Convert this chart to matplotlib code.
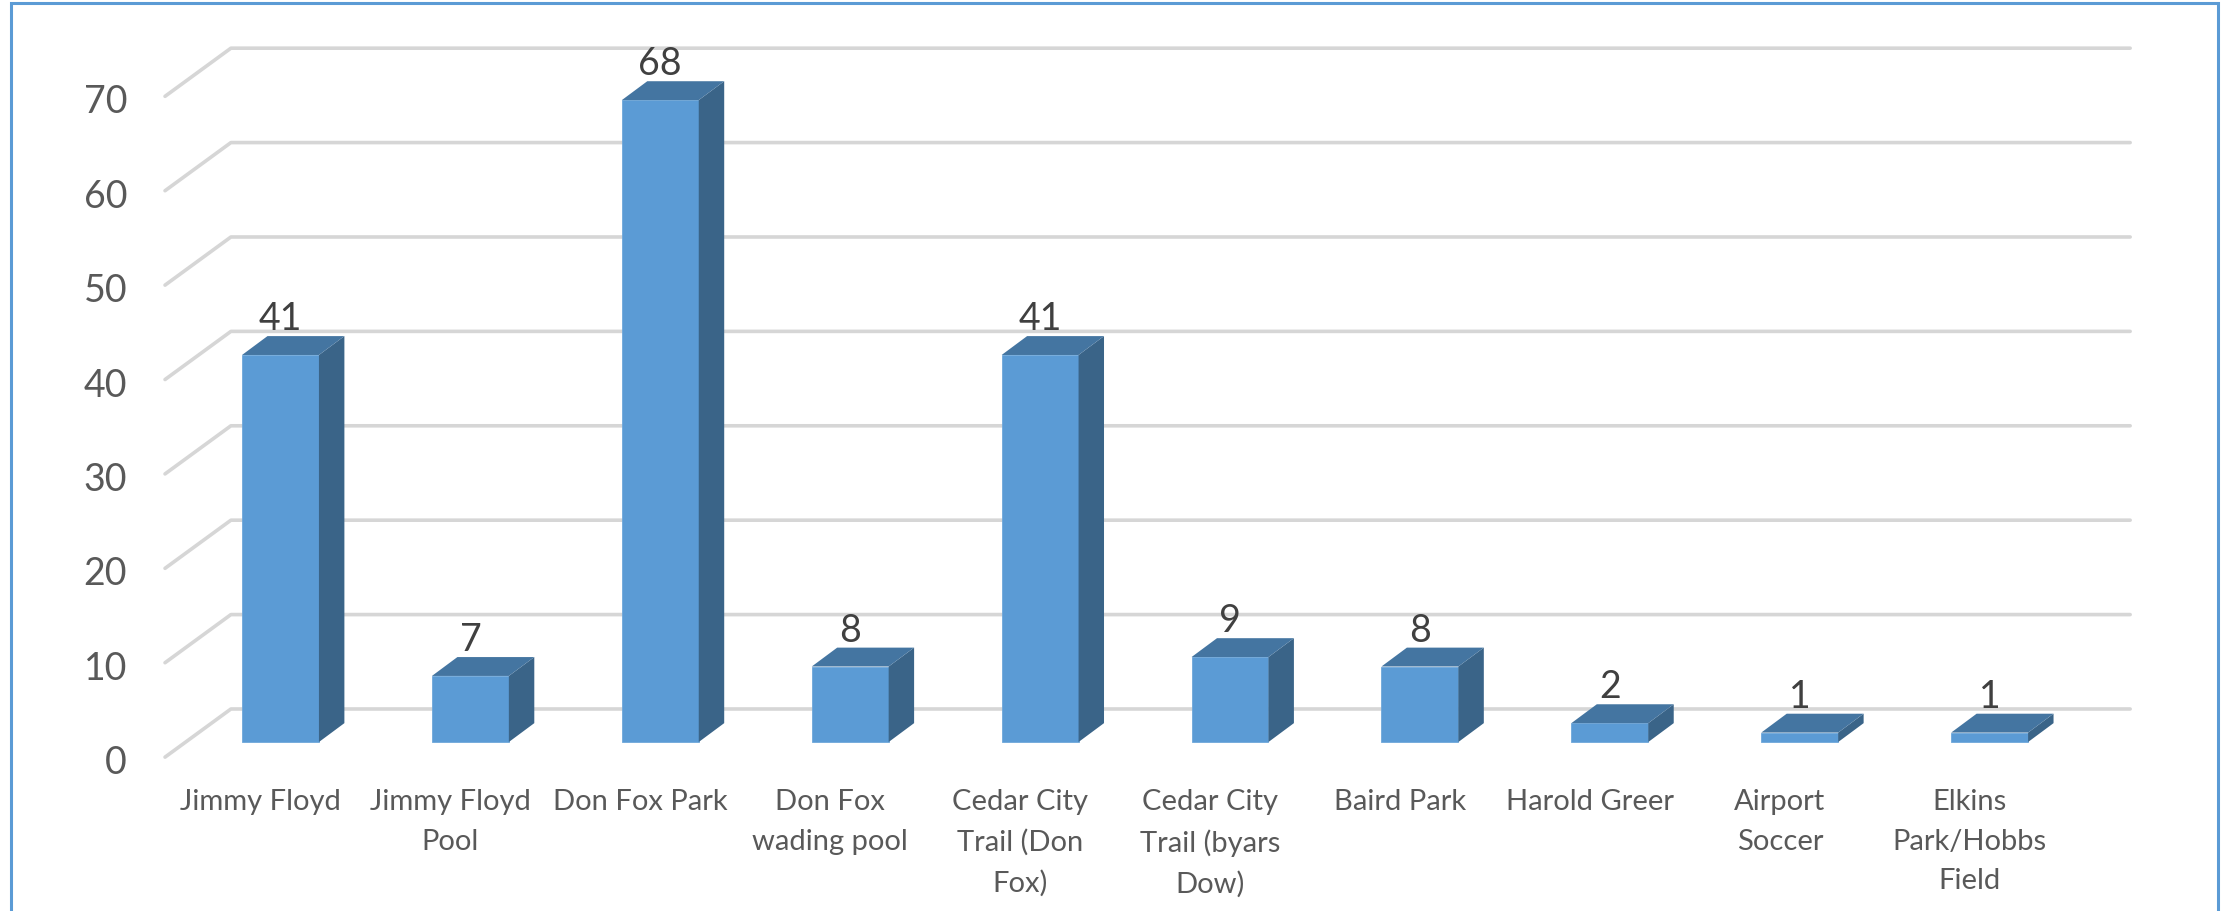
import matplotlib
matplotlib.use("Agg")
import matplotlib.pyplot as plt
from matplotlib.patches import Polygon, Rectangle

plt.rcParams['font.family'] = ['Lato', 'DejaVu Sans']

# data
parks = ["Jimmy Floyd", "Jimmy Floyd\nPool", "Don Fox Park", "Don Fox\nwading pool",
         "Cedar City\nTrail (Don\nFox)", "Cedar City\nTrail (byars\nDow)", "Baird Park",
         "Harold Greer", "Airport\nSoccer", "Elkins\nPark/Hobbs\nField"]
counts = [41, 7, 68, 8, 41, 9, 8, 2, 1, 1]
y_ticks = [0, 10, 20, 30, 40, 50, 60, 70]

front_col = "#5b9bd5"
side_col = "#3a6488"
top_col = "#4475a1"
grid_col = "#d6d6d6"

fig = plt.figure(figsize=(22.31, 9.12), dpi=100)
ax = fig.add_axes([0, 0, 1, 1])
ax.set_xlim(-1.477, 10.271)
ax.set_ylim(-17.9, 78.71)
ax.axis("off")

# fake 3d depth (data units)
w = 0.405
dx, dy = 0.134, 2.0

# gridlines: diagonal on the left wall, then back wall
gx_front, gx_back, gx_end = -0.608, -0.261, 9.74
for t in y_ticks:
    yf = t - 1.6
    yb = t + 3.5
    ax.plot([gx_front, gx_back, gx_end], [yf, yb, yb], color=grid_col, lw=2.6,
            solid_capstyle="round", solid_joinstyle="round", zorder=1)
    ax.text(-0.808, t - 3.3, str(t), ha="right", va="baseline", fontsize=27,
            color="#595959")

x = list(range(len(parks)))
ax.bar(x, counts, width=w, color=front_col, edgecolor="#6ea7da", linewidth=0.6, zorder=3)
for xi, v in zip(x, counts):
    r = xi + w / 2
    l = xi - w / 2
    ax.add_patch(Polygon([(r, 0), (r + dx, dy), (r + dx, v + dy), (r, v)],
                         closed=True, facecolor=side_col, edgecolor="none", zorder=3))
    ax.add_patch(Polygon([(l, v), (r, v), (r + dx, v + dy), (l + dx, v + dy)],
                         closed=True, facecolor=top_col, edgecolor="none", zorder=3))
    ax.text(xi, v + dy + 0.75, str(v), ha="center", va="baseline", fontsize=27,
            color="#404040", zorder=5)

for xi, name in zip(x, parks):
    ax.text(xi - 0.105, -4.9, name, ha="center", va="top", fontsize=21,
            color="#595959", linespacing=1.64)

# chart border (bottom edge falls outside the image)
fig.add_artist(Rectangle((11 / 2231, -0.05), (2218 - 11) / 2231, 1 - 4 / 912 + 0.05,
                         transform=fig.transFigure, fill=False,
                         edgecolor="#5b9bd5", lw=2.2))

fig.savefig("out.png", dpi=100)
